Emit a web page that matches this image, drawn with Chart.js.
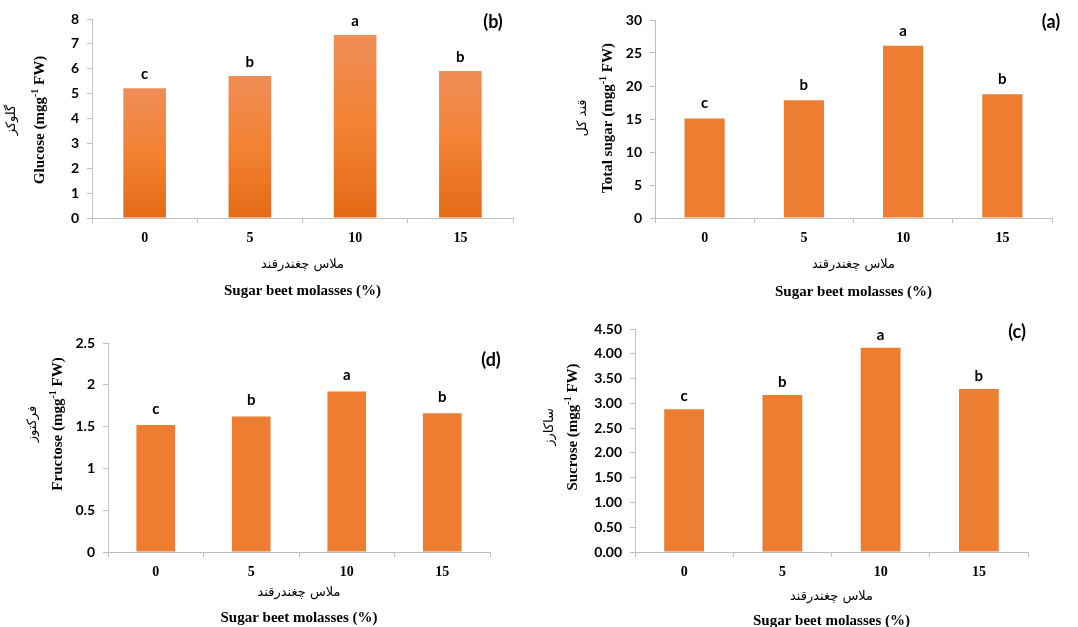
<!DOCTYPE html>
<html>
<head>
<meta charset="utf-8">
<script src="https://cdn.jsdelivr.net/npm/chart.js@4.4.1/dist/chart.umd.min.js"></script>
<style>
  html, body { margin: 0; padding: 0; background: #fff; }
  body { width: 1078px; height: 627px; position: relative; overflow: hidden; }
  canvas { position: absolute; }
</style>
</head>
<body>
<canvas id="cb" width="540" height="310" style="left:0;top:0"></canvas>
<canvas id="ca" width="538" height="310" style="left:540px;top:0"></canvas>
<canvas id="cd" width="540" height="317" style="left:0;top:310px"></canvas>
<canvas id="cc" width="538" height="317" style="left:540px;top:310px"></canvas>
<script>
// ---- data ----
const categories = ['0', '5', '10', '15'];
const glucose    = [5.22, 5.71, 7.36, 5.91];
const totalSugar = [15.06, 17.83, 26.10, 18.74];
const fructose   = [1.52, 1.62, 1.92, 1.66];
const sucrose    = [2.88, 3.17, 4.12, 3.29];
const letters    = ['c', 'b', 'a', 'b'];
const glucoseTicks = { max: 8, step: 1, decimals: 0 };
const totalTicks   = { max: 30, step: 5, decimals: 0 };
const fructoseTicks= { max: 2.5, step: 0.5, decimals: -1 };
const sucroseTicks = { max: 4.5, step: 0.5, decimals: 2 };
const xTitleFa = 'ملاس چغندرقند';
const xTitleEn = 'Sugar beet molasses (%)';

const AXIS = '#BFBFBF';
const ORANGE = '#ED7D31';

const annotate = {
  id: 'annotate',
  afterDraw(chart, args, o) {
    const ctx = chart.ctx;
    const ca = chart.chartArea;
    ctx.save();
    ctx.fillStyle = '#000';
    // letters above bars
    ctx.font = 'bold 15px Lato';
    ctx.textAlign = 'center';
    ctx.textBaseline = 'middle';
    chart.getDatasetMeta(0).data.forEach((bar, i) => {
      ctx.fillText(letters[i], bar.x, bar.y - o.letterGap);
    });
    // panel label
    ctx.font = 'bold 18px Lato';
    ctx.fillText(o.panel, o.panelX, o.panelY);
    // x titles
    const cx = (ca.left + ca.right) / 2;
    ctx.font = '13px "DejaVu Sans"';
    ctx.fillText(xTitleFa, cx, o.faY);
    ctx.font = 'bold 15px "Liberation Serif"';
    ctx.fillText(xTitleEn, cx, o.enY);
    // y title (English, with superscript)
    ctx.translate(o.yEnX, o.yCY);
    ctx.rotate(-Math.PI / 2);
    const f1 = 'bold 15px "Liberation Serif"', f2 = 'bold 10px "Liberation Serif"';
    const p1 = o.yTitle + ' (mgg', p2 = '-1', p3 = ' FW)';
    ctx.font = f1; const w1 = ctx.measureText(p1).width, w3 = ctx.measureText(p3).width;
    ctx.font = f2; const w2 = ctx.measureText(p2).width;
    let x = -(w1 + w2 + w3) / 2;
    ctx.textAlign = 'left';
    ctx.font = f1; ctx.fillText(p1, x, 0); x += w1;
    ctx.font = f2; ctx.fillText(p2, x, -5); x += w2;
    ctx.font = f1; ctx.fillText(p3, x, 0);
    // y title (Persian)
    ctx.textAlign = 'center';
    ctx.font = '13px "DejaVu Sans"';
    ctx.fillText(o.yFa, 0, o.yFaX - o.yEnX);
    ctx.restore();
  }
};

function glucoseFill(context) {
  const chart = context.chart;
  const ys = chart.scales && chart.scales.y;
  if (!chart.chartArea || !ys || context.raw === undefined) return '#F08030';
  const top = ys.getPixelForValue(context.raw);
  const bot = ys.getPixelForValue(0);
  if (!isFinite(top) || !isFinite(bot) || top === bot) return '#F08030';
  const g = chart.ctx.createLinearGradient(0, top, 0, bot);
  g.addColorStop(0, '#F08D58');
  g.addColorStop(0.5, '#F38232');
  g.addColorStop(1, '#E36A17');
  return g;
}

function makeChart(id, values, ticks, fill, box, ann) {
  new Chart(document.getElementById(id), {
    type: 'bar',
    data: {
      labels: categories,
      datasets: [{
        data: values,
        backgroundColor: fill,
        borderWidth: 0,
        categoryPercentage: 1,
        barPercentage: 0.405
      }]
    },
    plugins: [annotate],
    options: {
      responsive: false,
      animation: false,
      devicePixelRatio: 1,
      layout: { padding: { top: box.top, right: box.right, left: 0, bottom: 0 } },
      plugins: { legend: { display: false }, tooltip: { enabled: false }, annotate: ann },
      scales: {
        x: {
          grid: { offset: true, drawOnChartArea: false, drawTicks: true, tickLength: 5, color: AXIS },
          border: { color: AXIS, width: 1 },
          ticks: { color: '#000', padding: 7, font: { family: 'Liberation Serif', weight: 'bold', size: 14 } },
          afterFit(s) { s.height = box.xh; }
        },
        y: {
          min: 0, max: ticks.max,
          grid: { drawOnChartArea: false, drawTicks: true, tickLength: 5, color: AXIS },
          border: { color: AXIS, width: 1 },
          ticks: {
            stepSize: ticks.step, color: '#000', padding: 8,
            font: { family: 'Lato', weight: 'bold', size: 14 },
            callback: v => ticks.decimals >= 0 ? v.toFixed(ticks.decimals) : String(v)
          },
          afterFit(s) { s.width = box.yw; }
        }
      }
    }
  });
}

makeChart('cb', glucose, glucoseTicks, glucoseFill,
  { top: 19, right: 27, xh: 92, yw: 92 },
  { panel: '(b)', panelX: 493, panelY: 22, letterGap: 14, faY: 265, enY: 291,
    yTitle: 'Glucose', yFa: 'گلوکز', yEnX: 40, yFaX: 12, yCY: 120 });

makeChart('ca', totalSugar, totalTicks, ORANGE,
  { top: 20, right: 26, xh: 92, yw: 115 },
  { panel: '(a)', panelX: 511, panelY: 22, letterGap: 15, faY: 265, enY: 292,
    yTitle: 'Total sugar', yFa: 'قند کل', yEnX: 68, yFaX: 43, yCY: 118 });

makeChart('cd', fructose, fructoseTicks, ORANGE,
  { top: 33, right: 50, xh: 75, yw: 108 },
  { panel: '(d)', panelX: 491, panelY: 50, letterGap: 16, faY: 283, enY: 308,
    yTitle: 'Fructose', yFa: 'فرکتوز', yEnX: 58, yFaX: 33, yCY: 114 });

makeChart('cc', sucrose, sucroseTicks, ORANGE,
  { top: 19, right: 50, xh: 75, yw: 95 },
  { panel: '(c)', panelX: 477, panelY: 22, letterGap: 13, faY: 287, enY: 311,
    yTitle: 'Sucrose', yFa: 'ساکارز', yEnX: 33, yFaX: 10, yCY: 117 });
</script>
</body>
</html>
